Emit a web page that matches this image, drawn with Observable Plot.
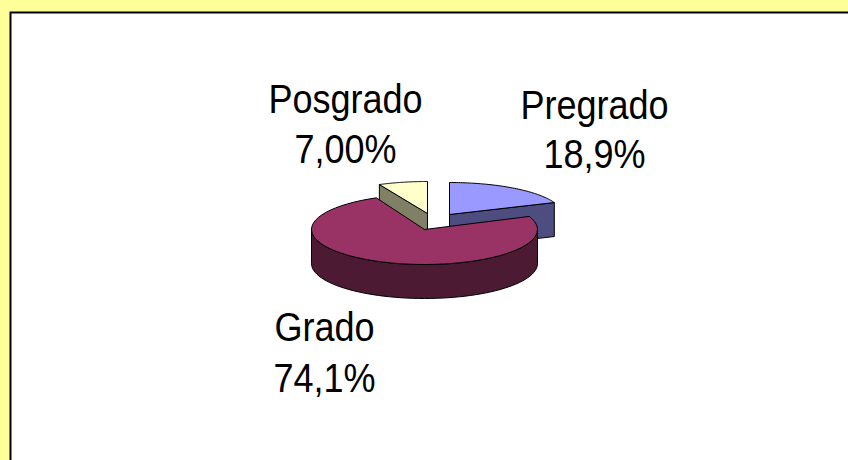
<!DOCTYPE html>
<html><head><meta charset="utf-8">
<script src="https://cdn.jsdelivr.net/npm/d3@7"></script>
<script src="https://cdn.jsdelivr.net/npm/@observablehq/plot@0.6"></script>
<style>html,body{margin:0;padding:0;background:#fff}svg{display:block}</style>
</head><body>
<script>
const categories = ["Pregrado", "Grado", "Posgrado"];
const shares = [18.9, 74.1, 7.0];
const shareLabels = ["18,9%", "74,1%", "7,00%"];
const topColors = ["#9999ff", "#993366", "#ffffcc"];
const sideColors = ["#4d4d80", "#4d1a33", "#808066"];
const centers = [[449, 214], [424, 229], [427, 213]];
const radiiY = [32, 35, 32];
const radiusX = 113, depth = 34;
const labelX = [594, 324, 345];
const nameBaseline = [118, 340, 112];
const valueBaseline = [167, 391, 162];

const W = 848, H = 460;
const total = d3.sum(shares);
let acc = 0;
const slices = categories.map((name, i) => {
  const a0 = acc / total * 2 * Math.PI; acc += shares[i];
  const a1 = acc / total * 2 * Math.PI;
  return {name, a0, a1, cx: centers[i][0], cy: centers[i][1], ry: radiiY[i], top: topColors[i], side: sideColors[i], label: shareLabels[i], lx: labelX[i], ny: nameBaseline[i], vy: valueBaseline[i]};
});
const rim = (s, t, dy = 0) => ({x: s.cx + radiusX * Math.sin(t), y: s.cy - s.ry * Math.cos(t) + dy});
const arc = (s, a, b, dy = 0) => d3.range(0, 61).map(k => rim(s, a + (b - a) * k / 60, dy));
const topPoly = s => [{x: s.cx, y: s.cy}, ...arc(s, s.a0, s.a1), {x: s.cx, y: s.cy}];
const [pre, gra, pos] = slices;

function wedgeSide(s, t) {
  const p = rim(s, t);
  return [{x: s.cx, y: s.cy}, p, {x: p.x, y: p.y + depth}, {x: s.cx, y: s.cy + depth}, {x: s.cx, y: s.cy}];
}
const preSide = wedgeSide(pre, pre.a1);
const posSide = wedgeSide(pos, pos.a0);
const graWall = [...arc(gra, Math.PI / 2, 1.5 * Math.PI), ...arc(gra, 1.5 * Math.PI, Math.PI / 2, depth)];
graWall.push(graWall[0]);
const pf = (pts, fill) => Plot.line(pts, {x: "x", y: "y", fill, stroke: "#000", strokeWidth: 1, curve: "linear"});

const yellow = "#ffff99";
const textStyle = {fontSize: 40, fill: "#000", fontFamily: "Liberation Sans", lineAnchor: "bottom"};
const chart = Plot.plot({
  width: W, height: H, margin: 0,
  x: {domain: [0, W], range: [0, W], axis: null},
  y: {domain: [0, H], range: [0, H], axis: null},
  style: {background: yellow},
  marks: [
    Plot.rect([{x1: 10.5, x2: W + 5, y1: 12.5, y2: H + 5}], {x1: "x1", x2: "x2", y1: "y1", y2: "y2", fill: "#fff", stroke: "#000", strokeWidth: 2}),
    pf(posSide, pos.side), pf(topPoly(pos), pos.top),
    pf(preSide, pre.side), pf(topPoly(pre), pre.top),
    pf(graWall, gra.side), pf(topPoly(gra), gra.top),
    Plot.text(slices, {x: "lx", y: "ny", text: "name", ...textStyle}),
    Plot.text(slices, {x: "lx", y: "vy", text: "label", ...textStyle})
  ]
});
document.body.appendChild(chart);
// The reference labels are tall and condensed: squeeze glyphs horizontally, keeping them real text.
chart.querySelectorAll("text").forEach(t => {
  const len = t.getComputedTextLength();
  t.setAttribute("textLength", (len * 0.9).toFixed(1));
  t.setAttribute("lengthAdjust", "spacingAndGlyphs");
});
</script>
</body></html>
